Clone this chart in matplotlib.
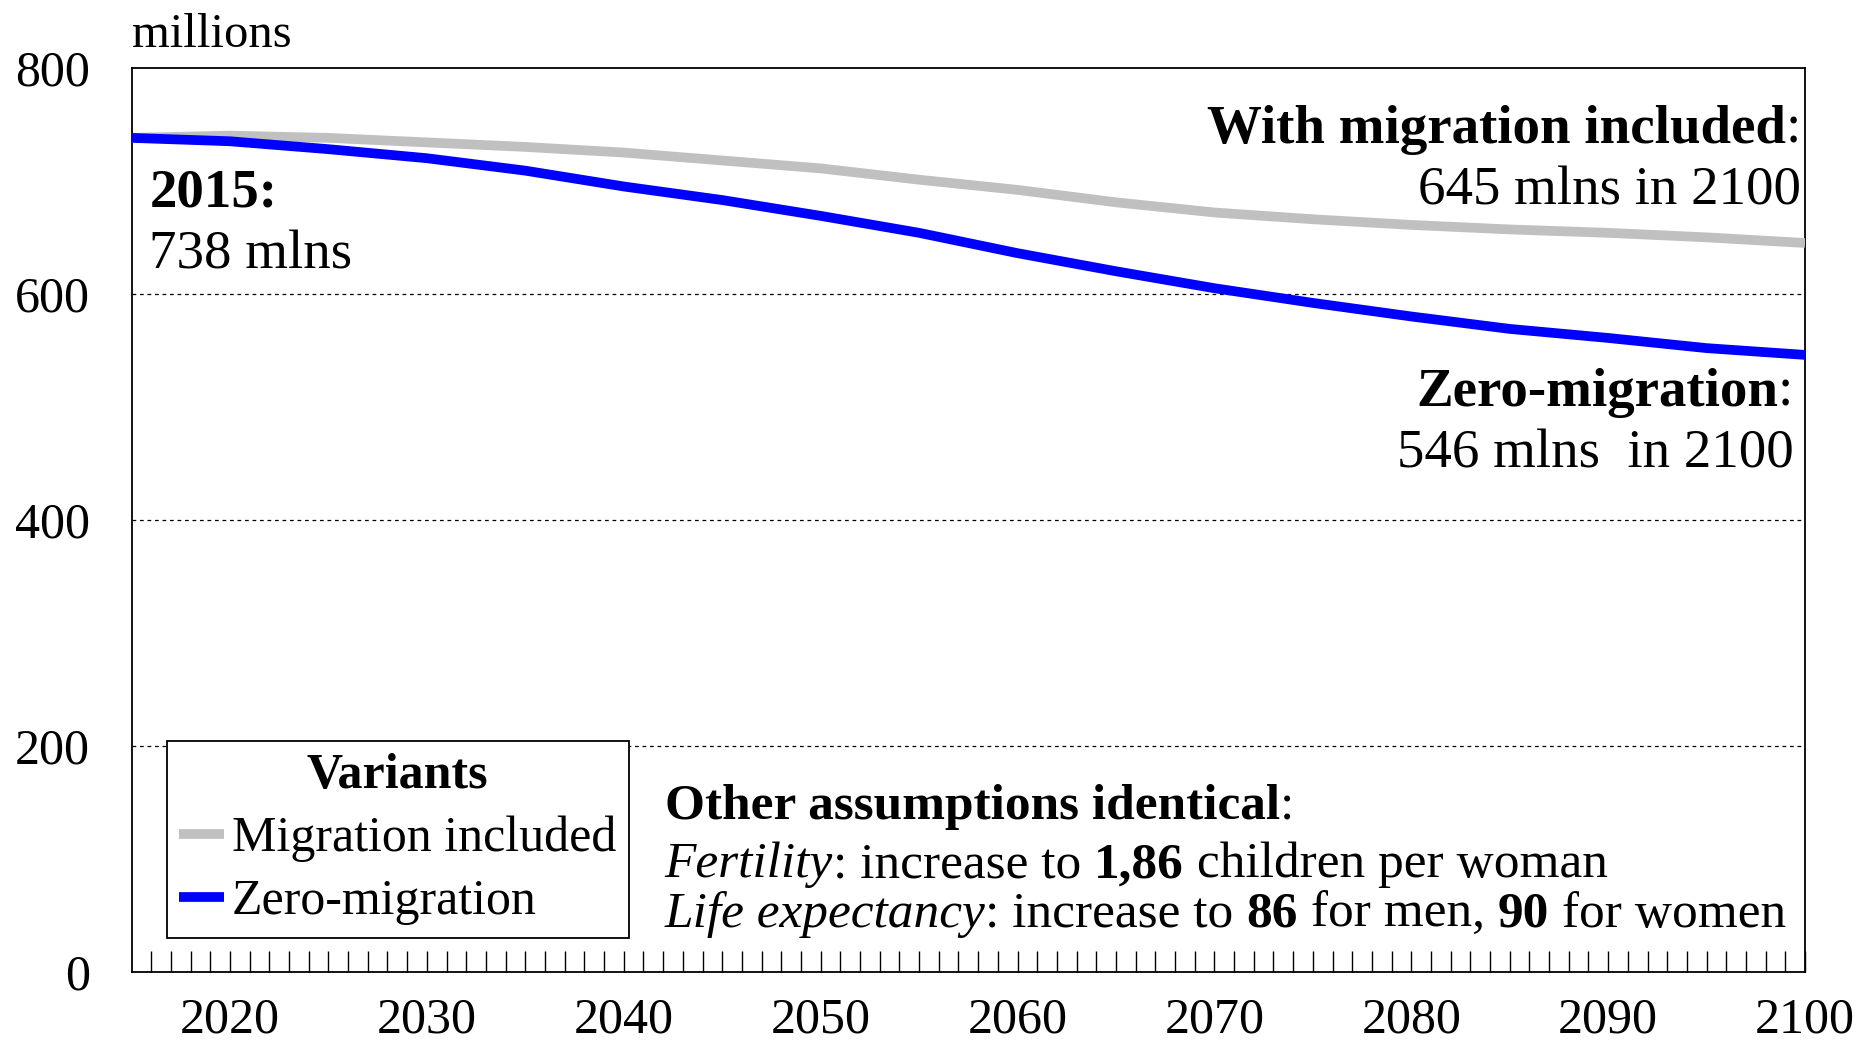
import numpy as np
import matplotlib
matplotlib.use("Agg")
import matplotlib.pyplot as plt

plt.rcParams['font.family'] = ['Liberation Serif', 'DejaVu Serif']

years = [2015, 2020, 2025, 2030, 2035, 2040, 2045, 2050, 2055, 2060,
         2065, 2070, 2075, 2080, 2085, 2090, 2095, 2100]
with_migration = [738, 740, 738, 734, 730, 725, 718, 711, 701, 692,
                  681, 672, 666, 661, 657, 654, 650, 645]
zero_migration = [738, 735, 728, 720, 709, 695, 683, 669, 654, 636,
                  620, 605, 592, 580, 569, 561, 552, 546]
yticks = [0, 200, 400, 600, 800]
xticks = [2020, 2030, 2040, 2050, 2060, 2070, 2080, 2090, 2100]

FS_TICK = 36
FS_NOTE = 39.5
FS_TEXT = 37
FS_LEG = 36

fig = plt.figure(figsize=(18.74, 10.43), dpi=100)
ax = fig.add_axes([0.0702, 0.068, 0.893, 0.867])

ax.plot(years, with_migration, color='#C0C0C0', lw=7, label='Migration included',
        solid_capstyle='butt', zorder=3)
ax.plot(years, zero_migration, color='#0000FF', lw=7, label='Zero-migration',
        solid_capstyle='butt', zorder=4)

ax.set_xlim(2015, 2100)
ax.set_ylim(0, 800)
ax.set_yticks(yticks)
ax.set_xticks(xticks)
ax.set_xticks(np.arange(2016, 2100), minor=True)
ax.tick_params(axis='y', length=0, pad=30, labelsize=FS_TICK)
ax.tick_params(axis='x', which='both', direction='in', length=15, width=1,
               pad=18, labelsize=FS_TICK)
for s in ax.spines.values():
    s.set_linewidth(1.3)
for v in yticks[1:-1]:
    ax.axhline(v, color='black', lw=0.9, ls=(0, (3, 3)), zorder=1)

ax.text(0.0, 1.012, 'millions', transform=ax.transAxes, fontsize=35,
        ha='left', va='bottom')


def chain(x, y, parts, size, ha='left'):
    # draw text pieces one after another on a common baseline
    if ha == 'right':
        parts = parts[::-1]
    s, kw = parts[0]
    t = ax.text(x, y, s, transform=ax.transAxes, fontsize=size, ha=ha,
                va='baseline', **kw)
    for s, kw in parts[1:]:
        t = ax.annotate(s, xy=(0 if ha == 'right' else 1, y),
                        xycoords=(t, 'axes fraction'), fontsize=size, ha=ha,
                        va='baseline', **kw)
    return t


B = {'weight': 'bold'}
N = {}
I = {'style': 'italic'}

chain(0.0107, 0.847, [('2015:', B)], FS_NOTE)
chain(0.0107, 0.778, [('738 mlns', N)], FS_NOTE)
chain(0.9976, 0.917, [('With migration included', B), (':', N)], FS_NOTE, ha='right')
chain(0.9976, 0.849, [('645 mlns in 2100', N)], FS_NOTE, ha='right')
chain(0.993, 0.626, [('Zero-migration', B), (':', N)], FS_NOTE, ha='right')
chain(0.993, 0.558, [('546 mlns  in 2100', N)], FS_NOTE, ha='right')
chain(0.3185, 0.169, [('Other assumptions identical', B), (':', N)], FS_TEXT)
chain(0.3185, 0.105, [('Fertility', I), (': increase to ', N), ('1,86', B),
                      (' children per woman', N)], FS_TEXT)
chain(0.3185, 0.050, [('Life expectancy', I), (': increase to ', N), ('86', B),
                      (' for men, ', N), ('90', B), (' for women', N)], FS_TEXT)

leg = ax.legend(loc='lower left', bbox_to_anchor=(0.021, 0.038), borderaxespad=0,
                title='Variants', title_fontproperties={'weight': 'bold', 'size': FS_LEG},
                fontsize=FS_LEG, handlelength=0.9, handletextpad=0.15, fancybox=False,
                edgecolor='black', framealpha=1, borderpad=0.25, labelspacing=0.33)
leg.get_frame().set_linewidth(1.3)
leg.set_zorder(5)

fig.savefig('out.png', dpi=100, facecolor='white')
